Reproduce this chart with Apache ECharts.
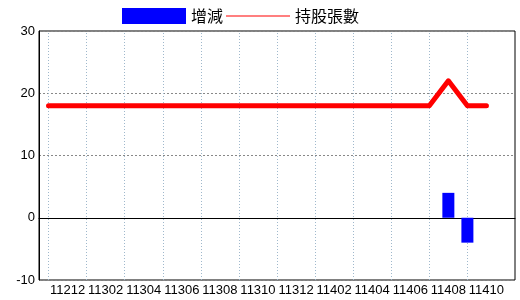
<!DOCTYPE html>
<html>
<head>
<meta charset="utf-8">
<script src="https://cdn.jsdelivr.net/npm/echarts@6/dist/echarts.min.js"></script>
<style>html,body{margin:0;padding:0;background:#fff;}#c{width:520px;height:300px;}</style>
</head>
<body>
<div id="c"></div>
<script>
const categories = ['11211','11212','11301','11302','11303','11304','11305','11306','11307','11308','11309','11310','11311','11312','11401','11402','11403','11404','11405','11406','11407','11408','11409','11410',''];
const changeValues = [null,null,null,null,null,null,null,null,null,null,null,null,null,null,null,null,null,null,null,null,null,4,-4,null];
const holdingValues = [18,18,18,18,18,18,18,18,18,18,18,18,18,18,18,18,18,18,18,18,18,22,18,18];
const yTicks = {min: -10, max: 30, interval: 10};

const numFont = '"Liberation Sans Narrow", "Liberation Sans", sans-serif';
const cjkFont = '"Noto Sans CJK TC", sans-serif';

const vGrid = categories.filter((c, i) => i % 2 === 0 && c !== '').map(c => ({xAxis: c}));

const chart = echarts.init(document.getElementById('c'), null, {renderer: 'canvas'});
chart.setOption({
  animation: false,
  backgroundColor: '#fff',
  grid: {left: 39, right: 5, top: 31, bottom: 20, show: true, borderColor: '#000', borderWidth: 1, containLabel: false},
  legend: {
    left: 122, top: 8, padding: 0, itemWidth: 64, itemHeight: 16, itemGap: 3,
    textStyle: {fontFamily: cjkFont, fontSize: 16, color: '#000'},
    data: [
      {name: '增減', icon: 'rect', itemStyle: {color: '#0000ff'}},
      {name: '持股張數', icon: 'path://M0,7.5 L64,7.5 L64,8.5 L0,8.5 Z', itemStyle: {color: '#ff0000'}}
    ]
  },
  xAxis: {
    type: 'category', data: categories, boundaryGap: true,
    axisLine: {lineStyle: {color: '#000', width: 1}},
    axisTick: {show: false},
    splitLine: {show: false},
    axisLabel: {interval: (i) => i % 2 === 1, color: '#000', fontFamily: numFont, fontSize: 13, margin: 4}
  },
  yAxis: {
    type: 'value', min: yTicks.min, max: yTicks.max, interval: yTicks.interval,
    axisLine: {show: true, lineStyle: {color: '#000', width: 1}},
    axisTick: {show: false},
    splitLine: {show: true, lineStyle: {color: '#888', type: [2,2], width: 1}},
    axisLabel: {color: '#000', fontFamily: numFont, fontSize: 13, margin: 4}
  },
  series: [
    {
      name: '增減', type: 'bar', data: changeValues, barWidth: 12, z: 3,
      itemStyle: {color: '#0000ff'},
      markLine: {
        silent: true, symbol: 'none', label: {show: false}, z: 1,
        data: [
          ...vGrid.map(d => Object.assign({}, d, {lineStyle: {color: '#9fb8cc', type: [1,2], width: 1}})),
          {yAxis: 0, lineStyle: {color: '#000', type: 'solid', width: 1}}
        ]
      }
    },
    {
      name: '持股張數', type: 'line', data: holdingValues, symbol: 'none', showSymbol: false,
      lineStyle: {color: '#ff0000', width: 5, cap: 'round', join: 'round'},
      itemStyle: {color: '#ff0000'}, z: 5
    }
  ]
});
</script>
</body>
</html>
